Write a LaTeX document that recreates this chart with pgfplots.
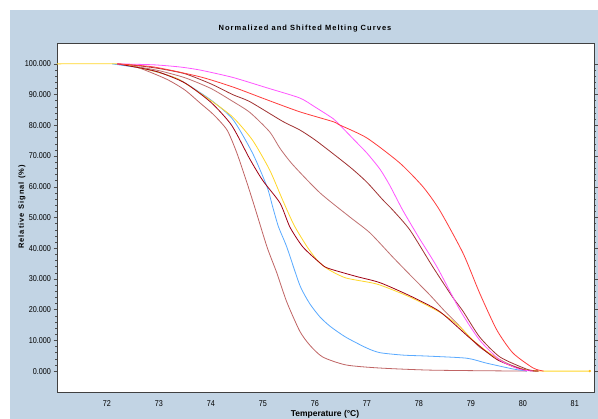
\documentclass[border=0pt]{standalone}
\usepackage{pgfplots}
\pgfplotsset{compat=1.18}
\usepackage{fontspec}
\setmainfont{Liberation Sans}
\newfontfamily\narrowfont[FakeStretch=0.85]{Liberation Sans}
\newfontfamily\spacedfont[LetterSpace=14]{Liberation Sans}
\definecolor{bgblue}{RGB}{194,212,228}
\definecolor{cyel}{RGB}{255,215,40}
\definecolor{cblue}{RGB}{90,170,255}
\definecolor{cbrownA}{RGB}{192,100,100}
\definecolor{cdark}{RGB}{160,0,20}
\definecolor{cbrownB}{RGB}{192,112,112}
\definecolor{cbrownC}{RGB}{160,50,50}
\definecolor{cpink}{RGB}{255,85,255}
\definecolor{cred}{RGB}{255,60,60}
\begin{document}
\begin{tikzpicture}
\fill[white] (0,0) rectangle (598pt,419pt);
\fill[bgblue] (10pt,0) rectangle (598pt,409pt);
\useasboundingbox (0,0) rectangle (598pt,419pt);
\node[font=\spacedfont\bfseries\fontsize{7.5}{9}\selectfont] at (305pt,390pt) {Normalized and Shifted Melting Curves};
\node[font=\spacedfont\bfseries\fontsize{7.5}{9}\selectfont, rotate=90] at (22pt,212pt) {Relative Signal (\%)};
\node[font=\bfseries\fontsize{8.5}{9}\selectfont] at (325pt,5pt) {Temperature (°C)};
\begin{axis}[
    at={(57pt,27pt)}, anchor=south west,
    scale only axis, width=537pt, height=349pt,
    xmin=71.04, xmax=81.37, ymin=-6.8, ymax=106.8,
    axis background/.style={fill=white},
    axis line style={draw=black!75, line width=0.9pt},
    xtick={72,73,...,81},
    xticklabels={72,73,74,75,76,77,78,79,80,81},
    ytick={0,10,...,100},
    yticklabels={0.000,10.000,20.000,30.000,40.000,50.000,60.000,70.000,80.000,90.000,100.000},
    minor y tick num=4,
    tick align=outside,
    major tick length=3.5pt, minor tick length=1.5pt,
    tick style={black!70, line width=0.5pt},
    xtick style={draw=none},
    tick label style={font=\narrowfont\fontsize{8.5}{10}\selectfont},
    /pgf/number format/assume math mode=true,
    xticklabel shift=2pt,
    yticklabel style={xshift=1pt},
    every axis plot/.append style={line width=0.8pt, smooth, tension=0.4},
]
% steep brown
\addplot[cbrownA] coordinates {
(72.2,100)(72.6,98.8)(73.15,95)(73.5,91.5)(73.79,87.3)(74.05,83.5)(74.31,78.5)(74.5,71)(74.7,61)(74.85,53)(75.08,40.4)(75.27,31.9)(75.46,22.5)(75.71,13)(75.9,8.5)(76.15,4.6)(76.6,2.0)(77.25,1.0)(78.27,0.3)(80.08,0)
};
% middle brown
\addplot[cbrownB] coordinates {
(72.2,100)(72.6,99)(73.0,97.8)(73.5,95.5)(74.0,92)(74.4,88)(74.75,84.2)(75.13,77.9)(75.33,72.5)(75.58,67.1)(76.1,58)(76.67,50.2)(77.06,45)(77.5,37.1)(77.85,31)(78.2,25)(78.5,19.5)(78.73,15.6)(79.17,7.8)(79.69,2.6)(80.08,0.3)(80.3,0)
};
% dark brown
\addplot[cbrownC] coordinates {
(72.2,100)(72.6,99.4)(73.0,98.5)(73.5,96.8)(74.0,93.5)(74.42,90)(74.75,87.7)(75.38,81.3)(75.71,78.5)(76.04,74.8)(76.67,66.5)(77.0,61.5)(77.31,55.7)(77.5,52.4)(77.83,45.9)(78.27,33.9)(78.65,24.1)(78.85,19.5)(79.17,11.1)(79.56,4.6)(80.08,0.6)(80.3,0)
};
% blue
\addplot[cblue] coordinates {
(72.1,100)(72.63,98.7)(73.0,97.2)(73.4,94.8)(73.98,88.5)(74.42,82)(74.8,71)(75.08,60)(75.19,53.4)(75.3,47)(75.46,40.4)(75.71,28)(75.9,22)(76.1,17.6)(76.3,14.5)(76.6,11)(77.0,7.5)(77.25,6.0)(77.7,5.2)(78.15,4.9)(78.92,4.2)(79.3,2.6)(79.81,0.7)(80.08,0)
};
% yellow
\addplot[cyel] coordinates {
(71.04,100)(72.2,100)(72.63,98.7)(73.0,97.2)(73.4,94.8)(73.98,88.3)(74.42,82.7)(74.8,75.2)(75.13,65.5)(75.38,55.7)(75.6,47.5)(75.85,40.5)(76.05,36)(76.25,33.2)(76.6,30.3)(77.2,28.3)(77.83,24.1)(78.4,19.2)(78.75,15)(79.04,10.1)(79.3,6.5)(79.56,3.6)(79.8,1.5)(80.08,0.3)(80.4,0)(81.29,0)
};
\addplot[only marks, mark=*, mark size=0.7pt, cyel!70!orange] coordinates {(81.29,0)};
% dark red
\addplot[cdark] coordinates {
(72.2,100)(72.6,98.8)(73.0,97.3)(73.5,93.8)(74.0,87.5)(74.4,80)(74.75,69)(75.0,62)(75.33,54.7)(75.52,46.9)(75.77,40.4)(76.1,35.2)(76.25,33.5)(76.8,30.8)(77.25,28.8)(77.83,24.5)(78.4,19.4)(79.0,10.5)(79.5,3.8)(80.0,0.5)(80.3,0)
};
% pink
\addplot[cpink] coordinates {
(72.2,100)(72.9,99.7)(73.4,99)(73.79,98)(74.42,95.6)(75.08,92.2)(75.71,88.9)(76.0,86)(76.35,82.2)(76.48,80.1)(76.8,74.5)(77.0,71)(77.25,65.8)(77.44,60.5)(77.69,52.4)(78.0,43.5)(78.35,33.9)(78.79,19.9)(79.17,10.1)(79.56,3.6)(79.94,0.6)(80.2,0)
};
% red
\addplot[cred] coordinates {
(72.2,100)(72.9,99)(73.79,95.8)(74.42,92.5)(75.08,88.3)(75.71,84.4)(76.35,81.2)(76.48,80.1)(77.0,75.9)(77.63,67.8)(78.08,60)(78.4,52.4)(78.85,38.4)(79.17,25.4)(79.5,13.4)(79.81,5.9)(80.2,1.0)(80.4,0)
};
\end{axis}
\end{tikzpicture}
\end{document}
